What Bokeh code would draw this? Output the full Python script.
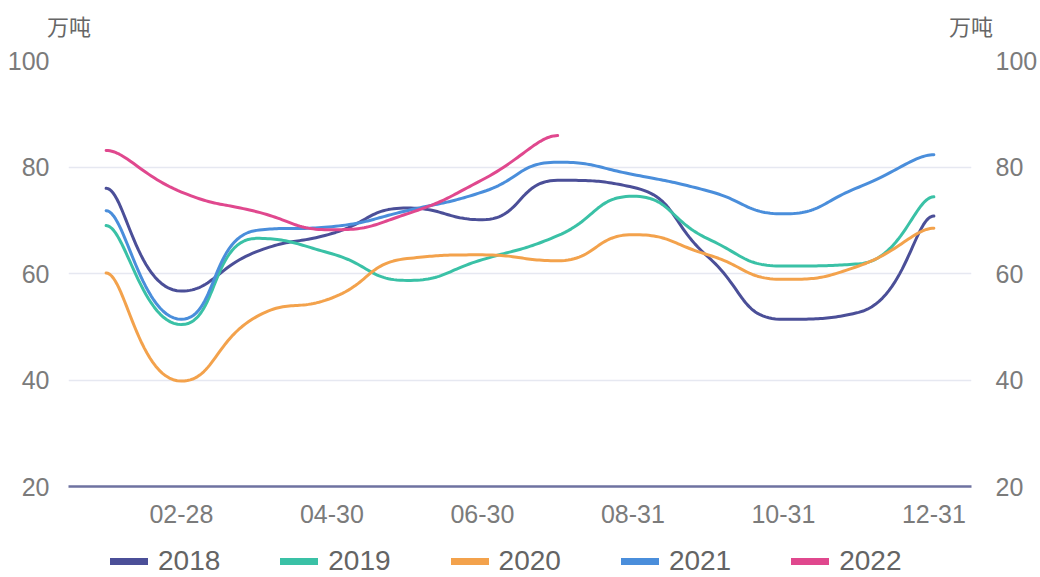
import math

from bokeh.embed import file_html
from bokeh.layouts import column
from bokeh.models import (FixedTicker, Legend, LegendItem, LinearAxis, Range1d)
from bokeh.plotting import figure
from bokeh.resources import INLINE

# Month-end categories (one point per month)
months = ["01-31", "02-28", "03-31", "04-30", "05-31", "06-30",
          "07-31", "08-31", "09-30", "10-31", "11-30", "12-31"]

# Inventory, 10k tonnes
y2018 = [76.0, 56.7, 64.1, 67.5, 72.3, 70.1, 77.5, 76.2, 63.1, 51.4, 52.7, 70.8]
y2019 = [69.0, 50.4, 66.6, 63.7, 58.7, 62.6, 67.1, 74.5, 66.5, 61.4, 61.8, 74.4]
y2020 = [60.1, 39.8, 51.9, 55.4, 62.8, 63.5, 62.4, 67.3, 63.5, 58.9, 61.4, 68.5]
y2021 = [71.8, 51.4, 68.1, 68.8, 71.8, 75.3, 80.9, 78.6, 75.5, 71.2, 76.2, 82.3]
y2022 = [83.1, 75.3, 71.6, 68.2, 71.2, 77.6, 85.9]

series_names = ["2018", "2019", "2020", "2021", "2022"]
series_values = [y2018, y2019, y2020, y2021, y2022]
series_colors = ["#4B4F98", "#3AC1A6", "#F3A24C", "#4A8EDB", "#E0488E"]

y_ticks = [20, 40, 60, 80, 100]
unit_label = "万吨"

W = 1040
MAIN_H, LEG_H = 532, 45
B_LEFT, B_RIGHT, B_TOP, B_BOTTOM = 68, 65, 60, 46
FRAME_W = W - B_LEFT - B_RIGHT
FRAME_H = MAIN_H - B_TOP - B_BOTTOM
X0, X1 = -0.5, len(months) - 0.5
Y0, Y1 = 20, 100
SX = FRAME_W / (X1 - X0)
SY = FRAME_H / (Y1 - Y0)


def smooth_curve(xs, ys, smooth=0.5, steps=30):
    """Bezier smoothing with per-point clamping of control points
    (keeps extremes flat, level tangents at both ends), evaluated in
    screen-proportional space."""
    P = [(x * SX, y * SY) for x, y in zip(xs, ys)]
    n = len(P)
    out_x, out_y = [P[0][0]], [P[0][1]]
    cp0 = (P[0][0] + (P[1][0] - P[0][0]) * smooth * 0.5, P[0][1])
    for k in range(1, n):
        px, py = P[k - 1]
        x, y = P[k]
        nxt_cp0 = None
        if k == n - 1:
            cp1 = (x - (x - px) * smooth * 0.5, y)
        else:
            nx, ny = P[k + 1]
            vx, vy = nx - px, ny - py
            l0 = math.hypot(x - px, y - py)
            l1 = math.hypot(nx - x, ny - y)
            r = l1 / (l0 + l1)
            ncx = x + vx * smooth * r
            ncy = y + vy * smooth * r
            ncx = max(min(ncx, max(nx, x)), min(nx, x))
            ncy = max(min(ncy, max(ny, y)), min(ny, y))
            vx, vy = ncx - x, ncy - y
            c1x = x - vx * l0 / l1
            c1y = y - vy * l0 / l1
            c1x = max(min(c1x, max(px, x)), min(px, x))
            c1y = max(min(c1y, max(py, y)), min(py, y))
            vx, vy = x - c1x, y - c1y
            nxt_cp0 = (x + vx * l1 / l0, y + vy * l1 / l0)
            cp1 = (c1x, c1y)
        for i in range(1, steps + 1):
            t = i / steps
            a, b, c, d = (1 - t) ** 3, 3 * (1 - t) ** 2 * t, 3 * (1 - t) * t ** 2, t ** 3
            out_x.append(a * px + b * cp0[0] + c * cp1[0] + d * x)
            out_y.append(a * py + b * cp0[1] + c * cp1[1] + d * y)
        cp0 = nxt_cp0
    return [v / SX for v in out_x], [v / SY for v in out_y]


TICK_FONT = "Liberation Sans"
TICK_COLOR = "#7B7B7B"

p = figure(width=W, height=MAIN_H, output_backend="svg", toolbar_location=None,
           x_range=Range1d(X0, X1), y_range=Range1d(Y0, Y1),
           min_border_left=B_LEFT, min_border_right=B_RIGHT,
           min_border_top=B_TOP, min_border_bottom=B_BOTTOM)
p.outline_line_color = None
p.xgrid.visible = False
p.ygrid.ticker = FixedTicker(ticks=y_ticks)
p.ygrid.grid_line_color = "#E6E8F1"
p.ygrid.grid_line_width = 1.5

# bottom axis: month-end labels every other month
xa = p.xaxis[0]
xa.ticker = FixedTicker(ticks=list(range(1, len(months), 2)))
xa.major_label_overrides = {i: m for i, m in enumerate(months)}
xa.axis_line_color = "#6E72A0"
xa.axis_line_width = 2.5
xa.major_tick_line_color = None
xa.minor_tick_line_color = None
xa.major_label_standoff = 12
xa.major_label_text_font = TICK_FONT
xa.major_label_text_font_size = "25px"
xa.major_label_text_color = TICK_COLOR

ya = p.yaxis[0]
ra = LinearAxis()
p.add_layout(ra, "right")
for ax, standoff in ((ya, 13), (ra, 18)):
    ax.ticker = FixedTicker(ticks=y_ticks)
    ax.axis_line_color = None
    ax.major_tick_line_color = None
    ax.minor_tick_line_color = None
    ax.major_label_standoff = standoff
    ax.major_label_text_font = TICK_FONT
    ax.major_label_text_font_size = "25px"
    ax.major_label_text_color = TICK_COLOR

# unit captions over both value axes, carried by a top axis
p.extra_x_ranges = {"unit": Range1d(0, 1)}
ua = LinearAxis(x_range_name="unit", ticker=FixedTicker(ticks=[0.0005, 0.9995]),
                major_label_overrides={0.0005: unit_label, 0.9995: unit_label})
ua.axis_line_color = None
ua.major_tick_line_color = None
ua.minor_tick_line_color = None
ua.major_label_standoff = 14
ua.major_label_text_font = "Noto Sans CJK SC"
ua.major_label_text_font_size = "22px"
ua.major_label_text_color = "#666666"
p.add_layout(ua, "above")

for vals, col in zip(series_values, series_colors):
    xs = list(range(len(vals)))
    cx, cy = smooth_curve(xs, vals)
    p.line(cx, cy, line_color=col, line_width=3, line_join="round", line_cap="round")

# legend strip under the chart
leg = figure(width=W, height=LEG_H, output_backend="svg", toolbar_location=None,
             x_range=Range1d(0, 1), y_range=Range1d(0, 1), min_border=0)
leg.axis.visible = False
leg.grid.visible = False
leg.outline_line_color = None
items = []
for name, col in zip(series_names, series_colors):
    sw = leg.line([0], [float("nan")], line_color=col, line_width=7, line_cap="round")
    items.append(LegendItem(label=name, renderers=[sw]))
legend = Legend(items=items, orientation="horizontal", location=(42, 0),
                glyph_width=38, glyph_height=24, label_standoff=10, spacing=60,
                label_text_font=TICK_FONT, label_text_font_size="28px",
                label_text_color="#646464", border_line_color=None,
                background_fill_alpha=0, padding=0, margin=0, label_height=24)
leg.add_layout(legend, "center")

layout = column(p, leg, spacing=0)
open("out.html", "w").write(file_html(layout, INLINE))
